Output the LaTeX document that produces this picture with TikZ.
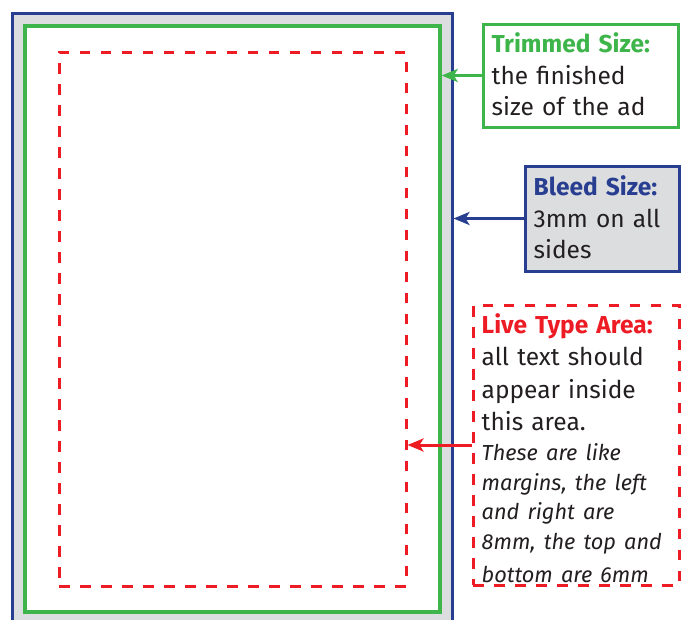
\documentclass[tikz,border=0pt]{standalone}
\usepackage{fontspec}
\setmainfont{Fira Sans}
\usetikzlibrary{arrows.meta}
\definecolor{cgreen}{RGB}{61,181,74}
\definecolor{cblue}{RGB}{40,62,145}
\definecolor{cred}{RGB}{237,28,36}
\definecolor{cgray}{RGB}{220,221,223}
\definecolor{ctext}{RGB}{35,31,32}
\tikzset{
  reddash/.style={cred, line width=3pt, dash pattern=on 10.5pt off 10.5pt},
  label text/.style={anchor=west, align=left, text width=200pt, inner sep=0pt, font=\fontsize{24.5}{31.7}\selectfont, text=ctext},
  pointer/.style={line width=3pt, -{Stealth[length=16pt,width=13pt,inset=4pt]}}
}
\begin{document}
\begin{tikzpicture}[x=1pt,y=-1pt]
\useasboundingbox (0,0) rectangle (683,619);
\clip (0,0) rectangle (683,619);
% page rectangles
\node[draw=cblue, fill=cgray, line width=3pt, minimum width=440pt, minimum height=620pt, inner sep=0pt] (bleed) at (232,323) {};
\node[draw=cgreen, fill=white, line width=3.5pt, minimum width=415pt, minimum height=586pt, inner sep=0pt] (trim) at (232.5,319) {};
\node[draw, reddash, minimum width=347pt, minimum height=534pt, inner sep=0pt] (live) at (232.5,319) {};
% label boxes
\node[draw=cgreen, line width=3pt, minimum width=195pt, minimum height=103pt, inner sep=0pt] (tbox) at (580.5,75.5) {};
\node[label text] (ttext) at ([xshift=10pt,yshift=1pt]tbox.west) {{\bfseries\color{cgreen}Trimmed Size:}\\the finished\\size of the ad};
\node[draw=cblue, fill=cgray, line width=3pt, minimum width=154pt, minimum height=105pt, inner sep=0pt] (bbox) at (602,218.5) {};
\node[label text] (btext) at ([xshift=10pt,yshift=1pt]bbox.west) {{\bfseries\color{cblue}Bleed Size:}\\3mm on all\\sides};
\node[draw, reddash, minimum width=206pt, minimum height=280pt, inner sep=0pt] (lbox) at (576,445) {};
\node[label text, font=\fontsize{24.5}{32.3}\selectfont] (ltext) at ([xshift=10pt,yshift=-3pt]lbox.west) {{\bfseries\color{cred}Live Type Area:}\\all text should\\appear inside\\this area.\par
\itshape\fontsize{21.75}{29.8}\selectfont These are like\\margins, the left\\and right are\\8mm, the top and\\bottom are 6mm};
% pointers
\draw[pointer, cgreen] (tbox.west) -- (tbox.west -| trim.east);
\draw[pointer, cblue] (bbox.west) -- (bbox.west -| bleed.east);
\draw[pointer, cred] (lbox.west) -- (lbox.west -| live.east);
\end{tikzpicture}
\end{document}
